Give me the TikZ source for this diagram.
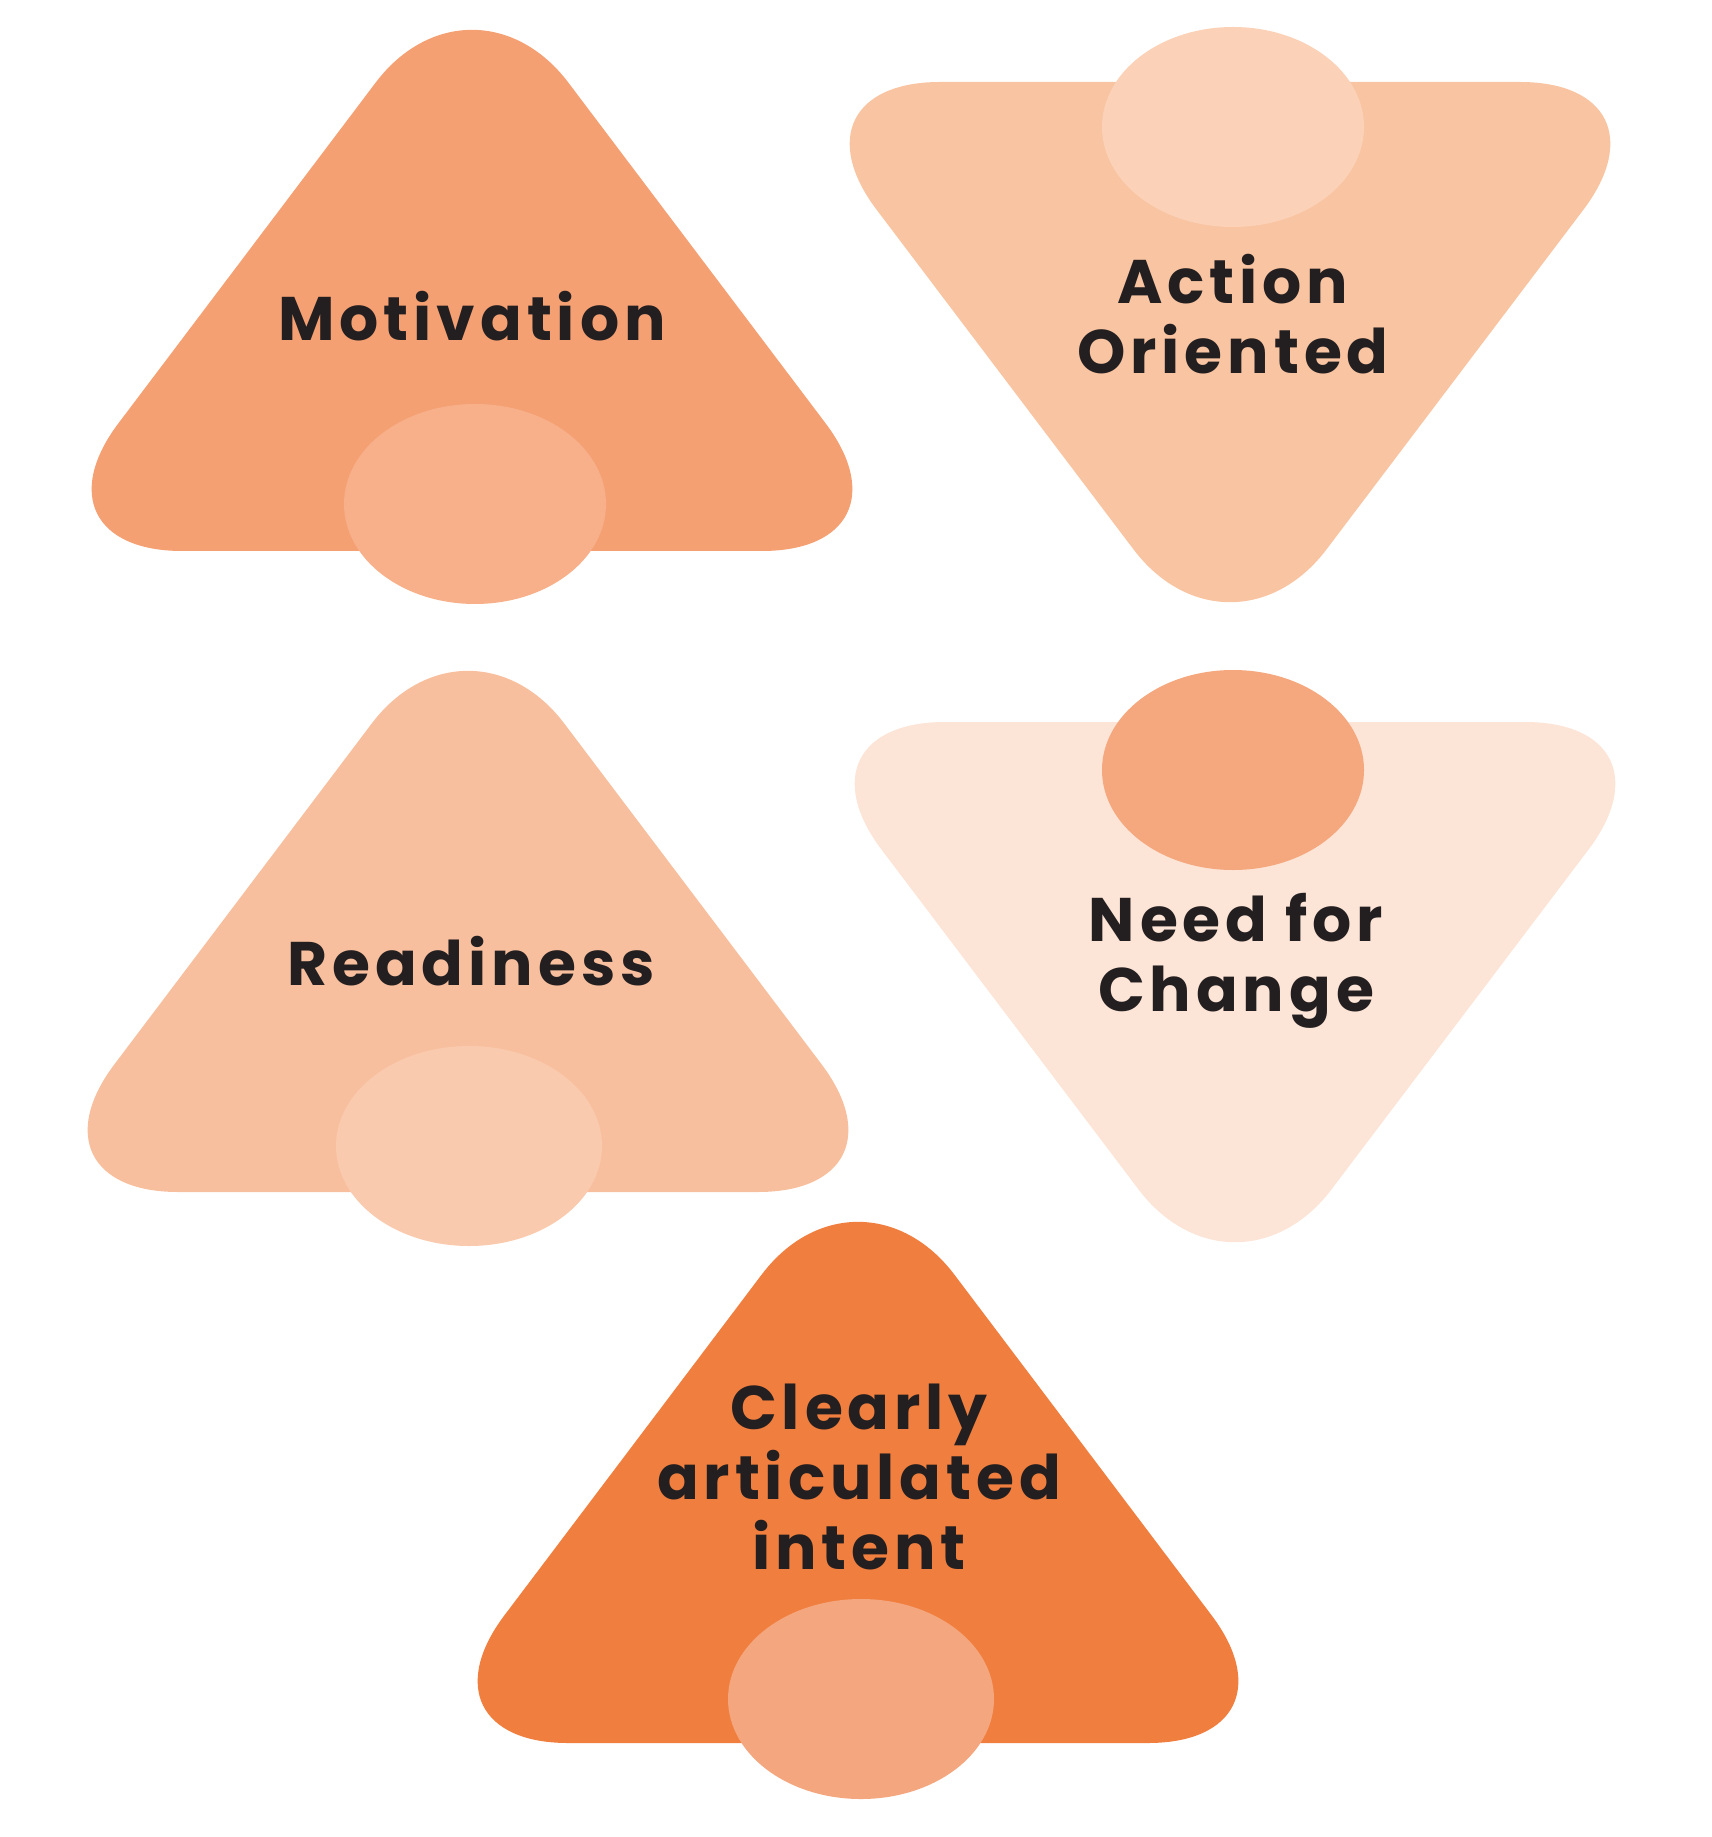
\documentclass[tikz,border=0pt]{standalone}
\usepackage{fontspec}
\setmainfont{Poppins}
\newfontfamily\lblfont{Poppins}[LetterSpace=8]
\definecolor{txt}{HTML}{231F20}
\definecolor{cMot}{HTML}{F5A073}
\definecolor{cMotC}{HTML}{F7B08A}
\definecolor{cAct}{HTML}{F9C4A2}
\definecolor{cActC}{HTML}{FBD2B8}
\definecolor{cRea}{HTML}{F8BF9E}
\definecolor{cReaC}{HTML}{F9CAAE}
\definecolor{cNeed}{HTML}{FCE4D6}
\definecolor{cNeedC}{HTML}{F5A77E}
\definecolor{cCle}{HTML}{F07E3E}
\definecolor{cCleC}{HTML}{F4A67F}
\begin{document}
\begin{tikzpicture}[x=0.01cm,y=-0.01cm,
  tri/.style={rounded corners=1.6cm},
  lbl/.style={text=txt,font=\lblfont\fontsize{17.5}{19.9}\selectfont\bfseries,align=center,inner sep=0pt}]
\useasboundingbox (0,0) rectangle (1711,1837);
% Motivation (up)
\fill[cMot,tri] (472,-45) -- (922,551) -- (22,551) -- cycle;
\fill[cMotC] (475,504) ellipse [x radius=131,y radius=100];
\node[lbl] (mot) at (472,316) {Motivation};
% Action Oriented (down)
\fill[cAct,tri] (780,82) -- (1680,82) -- (1230,677) -- cycle;
\fill[cActC] (1233,127) ellipse [x radius=131,y radius=100];
\node[lbl] (act) at (1233,314) {Action\\Oriented};
% Readiness (up)
\fill[cRea,tri] (468,596) -- (918,1192) -- (18,1192) -- cycle;
\fill[cReaC] (469,1146) ellipse [x radius=133,y radius=100];
\node[lbl] (rea) at (471,961) {Readiness};
% Need for Change (down)
\fill[cNeed,tri] (785,722) -- (1685,722) -- (1235,1317) -- cycle;
\fill[cNeedC] (1233,770) ellipse [x radius=131,y radius=100];
\node[lbl] (need) at (1236,961) {Need for\\Change};
% Clearly articulated intent (up)
\fill[cCle,tri] (858,1147) -- (1308,1743) -- (408,1743) -- cycle;
\fill[cCleC] (861,1699) ellipse [x radius=133,y radius=100];
\node[lbl] (cle) at (859,1477) {Clearly\\articulated\\intent};
\end{tikzpicture}
\end{document}
